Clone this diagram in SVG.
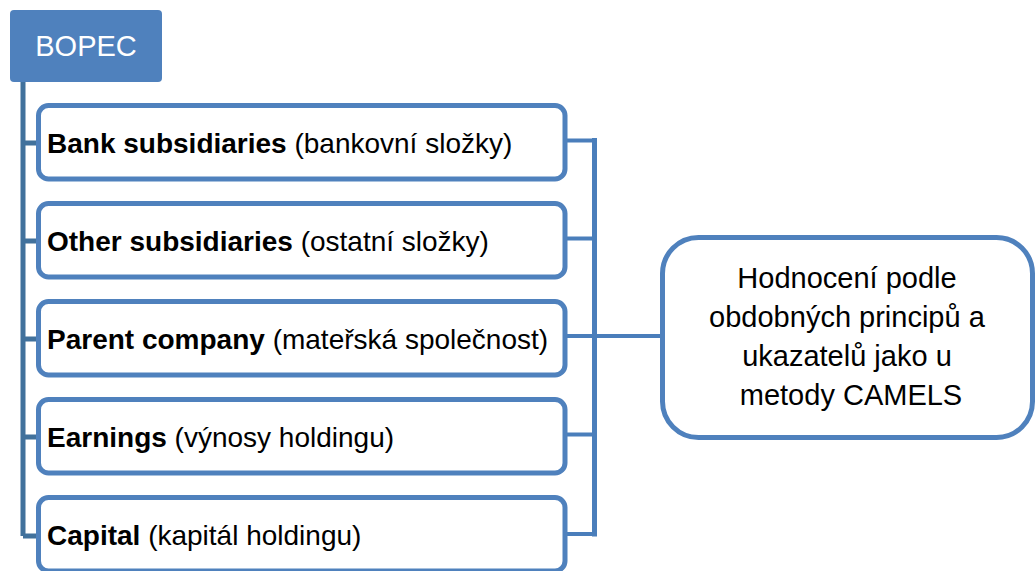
<svg xmlns="http://www.w3.org/2000/svg" width="1036" height="571" viewBox="0 0 1036 571">
<style>
.item{fill:#fff;stroke:#4F81BD;stroke-width:5}
.t{font-family:"Liberation Sans",Arial,sans-serif;font-size:28px;fill:#000}
.r{font-family:"Liberation Sans",Arial,sans-serif;font-size:29px;fill:#000}
.b{font-weight:bold}
.spine{stroke:#41719C;stroke-width:5;fill:none}
.br{stroke:#4A7EBB;fill:none}
</style>
<rect width="1036" height="571" fill="#fff"/>
<g id="connectors">
<path class="spine" d="M23 82 V536 M23 143 H38 M23 241 H38 M23 339 H38 M23 437 H38 M23 536 H38"/>
<path class="br" stroke-width="4" d="M557 140.5 H594.5 M557 238.5 H594.5 M557 336 H662 M557 434.5 H594.5 M557 534 H594.5"/>
<path class="br" stroke-width="5" d="M594.5 138 V536.5"/>
</g>
<g id="bopec">
<rect x="10" y="10" width="152" height="72" rx="4" fill="#4F81BD"/>
<text x="86" y="56" text-anchor="middle" font-family="Liberation Sans,Arial,sans-serif" font-size="29" fill="#fff">BOPEC</text>
</g>
<g id="bank">
<rect class="item" x="38.5" y="105.5" width="526.5" height="73.5" rx="10"/>
<text class="t" x="47" y="153"><tspan class="b">Bank subsidiaries</tspan> (bankovní složky)</text>
</g>
<g id="other">
<rect class="item" x="38.5" y="203.5" width="526.5" height="73.5" rx="10"/>
<text class="t" x="47" y="251"><tspan class="b">Other subsidiaries</tspan> (ostatní složky)</text>
</g>
<g id="parent">
<rect class="item" x="38.5" y="301.5" width="526.5" height="73.5" rx="10"/>
<text class="t" x="47" y="349"><tspan class="b">Parent company</tspan> (mateřská společnost)</text>
</g>
<g id="earnings">
<rect class="item" x="38.5" y="399.5" width="526.5" height="73.5" rx="10"/>
<text class="t" x="47" y="447"><tspan class="b">Earnings</tspan> (výnosy holdingu)</text>
</g>
<g id="capital">
<rect class="item" x="38.5" y="497.5" width="526.5" height="73.5" rx="10"/>
<text class="t" x="47" y="545"><tspan class="b">Capital</tspan> (kapitál holdingu)</text>
</g>
<g id="result">
<rect class="item" x="662.5" y="237.5" width="370" height="200" rx="36"/>
<text class="r" text-anchor="middle">
<tspan x="851" y="288">Hodnocení podle</tspan>
<tspan x="851" y="327">obdobných principů a</tspan>
<tspan x="851" y="366">ukazatelů jako u</tspan>
<tspan x="851" y="405">metody CAMELS</tspan>
</text>
</g>
</svg>
